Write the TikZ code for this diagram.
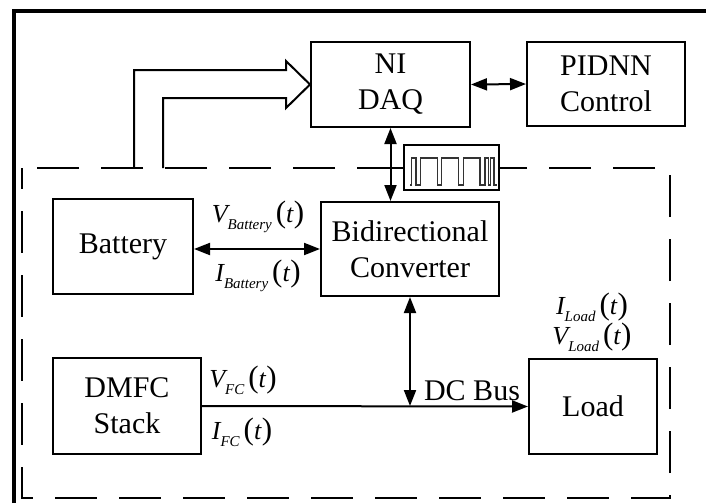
\documentclass[tikz,border=0pt]{standalone}
\usepackage{fontspec}
\setmainfont{Liberation Serif}
\usetikzlibrary{arrows.meta,calc}
\newcommand{\sigl}[2]{{\fontsize{26}{26}\selectfont\itshape #1}\raisebox{-7pt}{\fontsize{15}{15}\selectfont\itshape #2}\hspace{4pt}{\fontsize{31}{31}\selectfont(}{\fontsize{26}{26}\selectfont\itshape t\/}{\fontsize{31}{31}\selectfont)}}
\begin{document}
\begin{tikzpicture}[x=1pt,y=-1pt,
  blk/.style={draw,line width=2pt,inner sep=0pt,align=center,font=\fontsize{30}{36}\selectfont},
  lbl/.style={inner sep=0pt},
  con/.style={line width=2pt},
  dar/.style={con,{Triangle[length=16pt,width=12pt]}-{Triangle[length=16pt,width=12pt]}},
  sar/.style={con,-{Triangle[length=16pt,width=12pt]}}]
\useasboundingbox (0,0) rectangle (706,503);
% outer frame
\draw[line width=3.3pt] (14,503) -- (14,11) -- (706,11);
% dashed system boundary
\draw[line width=2pt,dash pattern=on 42pt off 22pt,dash phase=21pt] (22,168) rectangle (670,498);
% blocks
\node[blk,minimum width=159pt,minimum height=85pt] (daq) at (390.5,84.5) {NI\\DAQ};
\node[blk,minimum width=158pt,minimum height=84pt] (pid) at (606,84) {PIDNN\\Control};
\node[blk,minimum width=140pt,minimum height=95pt] (bat) at (123,246.5) {Battery};
\node[blk,minimum width=178pt,minimum height=94pt] (conv) at (410,249) {Bidirectional\\Converter};
\node[blk,minimum width=148pt,minimum height=96pt] (dmfc) at (127,406) {DMFC\\Stack};
\node[blk,minimum width=128pt,minimum height=95pt] (load) at (593,406.5) {Load};
\node[draw,fill=white,line width=2pt,minimum width=95pt,minimum height=45pt,inner sep=0pt] (wv) at (451.5,167.5) {};
% PWM waveform
\draw[line width=1.1pt,black!80] (410,185) -- (411.7,185) -- (411.7,158) -- (416,158) -- (416,185) -- (420.7,185) -- (420.7,158) -- (437.3,158) -- (437.3,185) -- (441.7,185) -- (441.7,158) -- (458.3,158) -- (458.3,185) -- (463.3,185) -- (463.3,158) -- (480,158) -- (480,185) -- (485,185) -- (485,158) -- (488.3,158) -- (488.3,185) -- (490.7,185) -- (490.7,158) -- (494,158) -- (494,185) -- (497,185);
% connectors
\draw[dar] (daq.east) -- (pid.west);
\draw[dar] (daq.south) -- (daq.south |- conv.north);
\coordinate (tap) at (daq.south |- wv.west);
\draw[con] (tap) -- (wv.west);
\draw[dar] (bat.east |- conv.west) -- (conv.west);
\draw[sar] (dmfc.east) -- (load.west);
\coordinate (bus) at (conv.south |- dmfc.east);
\draw[dar] (conv.south) -- (bus);
% hollow double-line arrow into NI DAQ
\coordinate (o1) at (134,168);
\coordinate (i1) at (163,168);
\coordinate (hb) at ($(daq.west)+(-24,0)$);
\draw[con,line join=miter] (o1) -- (o1 |- 0,70) -- (hb |- 0,70) -- (hb |- 0,61) -- (daq.west) -- (hb |- 0,108) -- (hb |- 0,98) -- (i1 |- 0,98) -- (i1);
% labels
\node[lbl] (vb) at (258,217) {\sigl{V}{Battery}};
\node[lbl] (ib) at (258,276) {\sigl{I}{Battery}};
\node[lbl] (vfc) at (243,380) {\sigl{V}{FC}};
\node[lbl] (ifc) at (242,432) {\sigl{I}{FC}};
\node[lbl] (il) at (592,307) {\sigl{I}{Load}};
\node[lbl] (vl) at (592,337) {\sigl{V}{Load}};
\node[inner sep=0pt,anchor=base,font=\fontsize{30}{36}\selectfont] (dcb) at (472,400) {DC Bus};
\end{tikzpicture}
\end{document}
